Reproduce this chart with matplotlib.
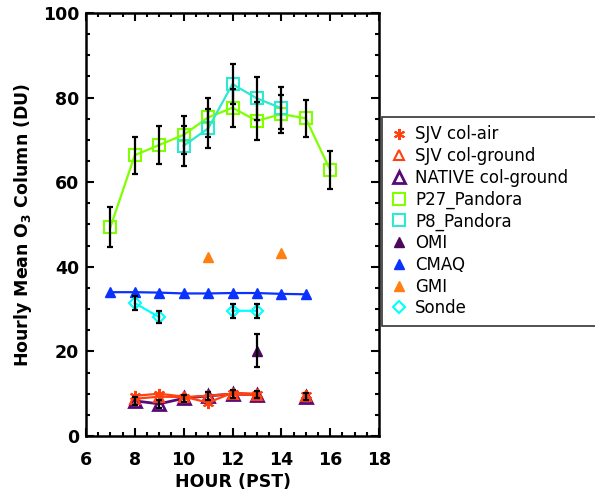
import numpy as np
import matplotlib
matplotlib.use("Agg")
import matplotlib.pyplot as plt
from matplotlib.ticker import MultipleLocator
from matplotlib.lines import Line2D

# ---------------- data ----------------
hours_p27 = [7, 8, 9, 10, 11, 12, 13, 14, 15, 16]
p27 = [49.4, 66.4, 68.8, 71.2, 75.3, 77.6, 74.5, 76.1, 75.1, 62.9]
p27_err = [4.8, 4.4, 4.5, 4.5, 4.5, 4.5, 4.5, 4.4, 4.4, 4.5]

hours_p8 = [10, 11, 12, 13, 14]
p8 = [68.6, 72.7, 83.2, 79.8, 77.5]
p8_err = [4.7, 4.7, 4.7, 5.0, 4.9]

hours_cmaq = [7, 8, 9, 10, 11, 12, 13, 14, 15]
cmaq = [34.0, 34.0, 33.9, 33.7, 33.7, 33.8, 33.8, 33.6, 33.5]

hours_gmi = [11, 14]
gmi = [42.4, 43.2]

hours_omi = [13]
omi = [20.2]
omi_err = [3.8]

hours_sonde = [8, 9, 10, 11, 12, 13]
sonde = [31.4, 28.1, np.nan, np.nan, 29.6, 29.6]
sonde_err = [1.7, 1.5, np.nan, np.nan, 1.6, 1.6]

hours_sjv = [8, 9, 10, 11, 12, 13, 14, 15]
sjv_air = [9.5, 10.0, 9.3, 7.9, 10.2, 10.0, np.nan, 9.8]
sjv_ground = [8.8, 9.3, 9.2, 9.5, 10.0, 9.6, np.nan, 9.4]
native_ground = [8.3, 7.6, 8.9, 9.5, 9.9, 9.8, np.nan, 9.3]
native_err = [0.9, 0.9, 0.9, 0.9, 0.9, 0.9, np.nan, 0.9]

legend_order = ["SJV col-air", "SJV col-ground", "NATIVE col-ground", "P27_Pandora",
                "P8_Pandora", "OMI", "CMAQ", "GMI", "Sonde"]

# ---------------- style ----------------
C_P27 = "#7FFF00"
C_P8 = "#2EE8D0"
C_CMAQ = "#0A32FF"
C_GMI = "#FF7F10"
C_OMI = "#4A0A5A"
C_SONDE = "#00FFFF"
C_SJV = "#FF4010"
C_NAT = "#5A0A78"

fig = plt.figure(figsize=(5.95, 4.93), dpi=100)
ax = fig.add_axes([86/595, 1-436/493, (379-86)/595, (436-13)/493])

eb = dict(fmt="none", ecolor="black", elinewidth=1.6, capsize=2.2, capthick=1.6, zorder=5)

ax.plot(hours_p27, p27, color=C_P27, lw=1.6, marker="s", ms=8, mfc="none",
        mec=C_P27, mew=1.5, label="P27_Pandora", zorder=3)
ax.errorbar(hours_p27, p27, yerr=p27_err, **eb)
ax.plot(hours_p8, p8, color=C_P8, lw=1.6, marker="s", ms=8, mfc="none",
        mec=C_P8, mew=1.5, label="P8_Pandora", zorder=3)
ax.errorbar(hours_p8, p8, yerr=p8_err, **eb)
ax.plot(hours_cmaq, cmaq, color=C_CMAQ, lw=1.6, marker="^", ms=7.5,
        mfc=C_CMAQ, mec=C_CMAQ, label="CMAQ", zorder=3)
ax.plot(hours_gmi, gmi, ls="none", marker="^", ms=7, mfc=C_GMI, mec=C_GMI,
        label="GMI", zorder=3)
ax.plot(hours_omi, omi, ls="none", marker="^", ms=7, mfc=C_OMI, mec=C_OMI,
        label="OMI", zorder=3)
ax.errorbar(hours_omi, omi, yerr=omi_err, **eb)
ax.plot(hours_sonde, sonde, color=C_SONDE, lw=1.6, marker="D", ms=6.5,
        mfc="none", mec=C_SONDE, mew=1.5, label="Sonde", zorder=3)
ax.errorbar(hours_sonde, sonde, yerr=sonde_err, **eb)
ax.plot(hours_sjv, native_ground, color=C_NAT, lw=2.0, marker="^", ms=8,
        mfc="none", mec=C_NAT, mew=2.0, label="NATIVE col-ground", zorder=3)
ax.plot(hours_sjv, sjv_ground, color=C_SJV, lw=1.6, marker="^", ms=7,
        mfc="none", mec=C_SJV, mew=1.5, label="SJV col-ground", zorder=3)
ax.plot(hours_sjv, sjv_air, color=C_SJV, lw=1.6, marker=(6, 2, 0), ms=8,
        mec=C_SJV, mew=1.5, label="SJV col-air", zorder=3)
ax.errorbar(hours_sjv, native_ground, yerr=native_err, **eb)

ax.set_xlim(6, 18)
ax.set_ylim(0, 100)
ax.xaxis.set_major_locator(MultipleLocator(2))
ax.xaxis.set_minor_locator(MultipleLocator(0.5))
ax.yaxis.set_major_locator(MultipleLocator(20))
ax.yaxis.set_minor_locator(MultipleLocator(5))
ax.tick_params(which="both", direction="in", top=True, right=True, width=1.5)
ax.tick_params(which="major", length=6, labelsize=12.5)
ax.tick_params(axis="x", which="major", pad=11)
ax.tick_params(axis="y", which="major", pad=5)
ax.tick_params(which="minor", length=3)
for lab in ax.get_xticklabels() + ax.get_yticklabels():
    lab.set_fontweight("bold")
for s in ax.spines.values():
    s.set_linewidth(1.8)

ax.set_xlabel("HOUR (PST)", fontsize=12.5, fontweight="bold", labelpad=3)
ax.set_ylabel("Hourly Mean O$_\\mathbf{3}$ Column (DU)", fontsize=12.5,
              fontweight="bold", labelpad=6)

h, l = ax.get_legend_handles_labels()
hd = dict(zip(l, h))

def proxy(lbl):
    src = hd[lbl]
    return Line2D([], [], ls="none", marker=src.get_marker(), ms=src.get_markersize(),
                  mfc=src.get_markerfacecolor(), mec=src.get_markeredgecolor(),
                  mew=src.get_markeredgewidth())

x0 = 382/595
y1 = 1 - 117/493
y0 = 1 - 328/493
leg = fig.legend([proxy(o) for o in legend_order], legend_order, loc="upper left",
                 bbox_to_anchor=(x0, y0, 0.45, y1 - y0), mode="expand",
                 fontsize=12, frameon=True, fancybox=False, edgecolor="black",
                 handlelength=1.0, handletextpad=0.5, labelspacing=0.22,
                 borderpad=0.5, borderaxespad=0)
leg.get_frame().set_linewidth(1.2)

fig.savefig("out.png", dpi=100)
